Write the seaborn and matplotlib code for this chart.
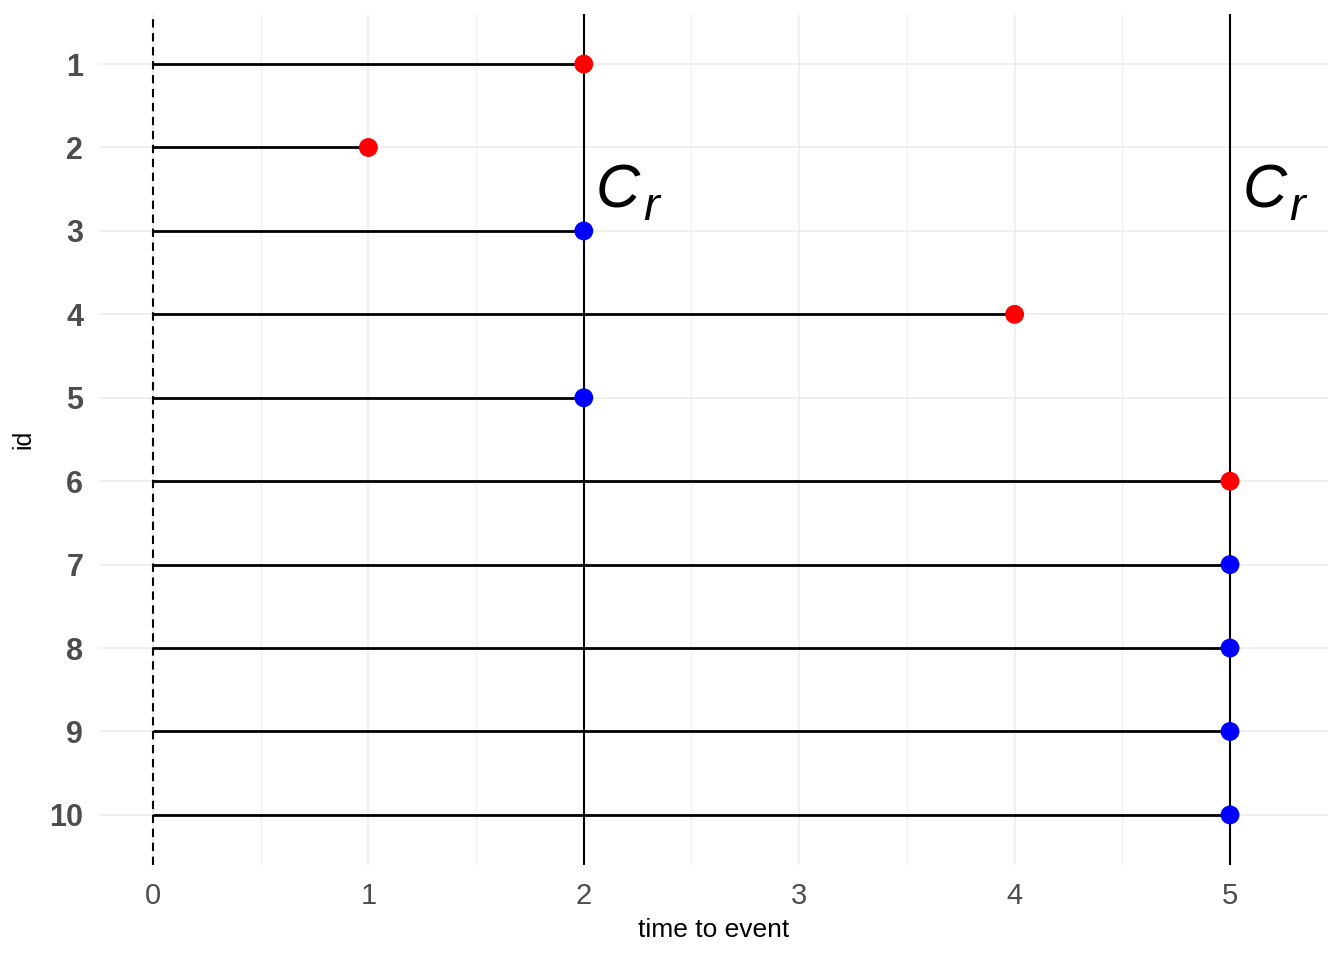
"""Survival follow-up plot: time to event per id, with censoring times."""

import numpy as np
import pandas as pd
import seaborn as sns
import matplotlib.pyplot as plt
from matplotlib.ticker import MultipleLocator

# Data
ids = [1, 2, 3, 4, 5, 6, 7, 8, 9, 10]
times = [2, 1, 2, 4, 2, 5, 5, 5, 5, 5]
status = [1, 1, 0, 1, 0, 1, 0, 0, 0, 0]   # 1 = event (red), 0 = censored (blue)
censor_times = [2, 5]
label_x = [2.2, 5.2]
label_y = 2.5

df = pd.DataFrame({'id': ids, 'time': times, 'status': status})

sns.set_theme(style='white')
plt.rcParams['font.family'] = ['Liberation Sans', 'DejaVu Sans']

fig = plt.figure(figsize=(13.44, 9.6), dpi=100)
ax = fig.add_axes([0.0744, 0.099, 0.9137, 0.8864])

# Grid (theme_minimal look)
ax.set_xlim(-0.246, 5.455)
ax.set_ylim(10.6, 0.4)
ax.xaxis.set_major_locator(MultipleLocator(1))
ax.xaxis.set_minor_locator(MultipleLocator(0.5))
ax.set_yticks(ids)
ax.grid(True, which='major', color='#EBEBEB', linewidth=1.1)
ax.grid(True, which='minor', axis='x', color='#EBEBEB', linewidth=0.55)
ax.set_axisbelow(True)
for s in ax.spines.values():
    s.set_visible(False)
ax.tick_params(which='both', length=0)

# Follow-up segments
ax.hlines(df['id'], 0, df['time'], color='black', linewidth=2.0, zorder=2)
ax.axvline(0, color='black', linewidth=1.5, linestyle=(0, (4, 2.7)), zorder=2)
for c in censor_times:
    ax.axvline(c, color='black', linewidth=1.5, zorder=2)

# End points
sns.scatterplot(data=df, x='time', y='id', hue='status',
                palette={1: '#FF0000', 0: '#0000FF'}, s=185,
                edgecolor='none', legend=False, zorder=3, ax=ax)

# C_r labels (C with a subscript r)
for lx in label_x:
    ax.annotate('C', (lx, label_y), xytext=(9.5, -13), textcoords='offset points',
                fontsize=44, fontstyle='italic', ha='right', va='baseline', color='black')
    ax.annotate('r', (lx, label_y), xytext=(11.5, -22), textcoords='offset points',
                fontsize=34, fontstyle='italic', ha='left', va='baseline', color='black')

# Labels
ax.set_xlabel('time to event', fontsize=19, color='black', labelpad=6)
ax.set_ylabel('id', fontsize=18, color='black', labelpad=10)
ax.set_xticklabels([str(int(t)) for t in ax.get_xticks()])
plt.setp(ax.get_xticklabels(), fontsize=21, color='#4D4D4D')
plt.setp(ax.get_yticklabels(), fontsize=22, color='#4D4D4D', fontweight='bold')
ax.tick_params(axis='x', pad=12)
ax.tick_params(axis='y', pad=12)

fig.savefig('out.png', dpi=100, facecolor='white')
